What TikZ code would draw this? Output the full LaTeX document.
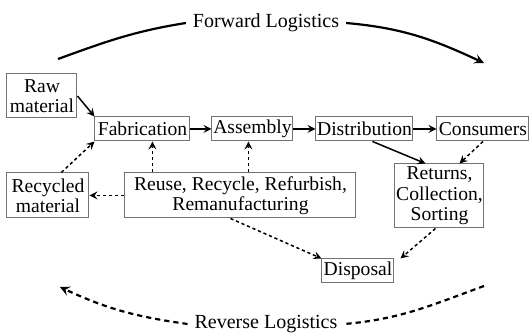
\documentclass[tikz,border=0pt]{standalone}
\usepackage{fontspec}
\setmainfont{Liberation Serif}
\begin{document}
\begin{tikzpicture}[x=0.5pt,y=0.5pt,
	box/.style={draw=black!55, line width=0.5pt, fill=white, inner sep=0.5pt, align=center, font=\fontsize{9.8}{10.2}\selectfont},
	flow/.style={line width=0.75pt, -stealth},
	back/.style={line width=0.75pt, -stealth, dash pattern=on 1.6pt off 1.4pt},
	logi/.style={font=\fontsize{10}{12}\selectfont},
	bigdash/.style={line width=1.1pt, dash pattern=on 2.6pt off 2pt}]
	\useasboundingbox (0,0) rectangle (532,333);

	% forward chain
	\node[box, minimum width=35pt, minimum height=22pt] (raw) at (42,237){Raw\\material};
	\node[box, minimum width=47.5pt, minimum height=12pt] (fab) at (142.5,204){Fabrication};
	\node[box, minimum width=40.5pt, minimum height=12pt] (asm) at (252.5,204){Assembly};
	\node[box, minimum width=48.5pt, minimum height=12pt] (dist) at (364.5,204){Distribution};
	\node[box, minimum width=46pt, minimum height=12pt] (cons) at (483,204){Consumers};

	% reverse chain
	\node[box, minimum width=41pt, minimum height=22.5pt] (recyc) at (48,137.5){Recycled\\material};
	\node[box, minimum width=115.5pt, minimum height=22.5pt] (reuse) at (240.5,137.5){Reuse, Recycle, Refurbish,\\Remanufacturing};
	\node[box, minimum width=44.5pt, minimum height=32pt] (ret) at (439.5,137){Returns,\\Collection,\\Sorting};
	\node[box, minimum width=36pt, minimum height=12pt] (disp) at (358,62){Disposal};

	\draw[flow] (raw.east) -- (fab.north west);
	\draw[flow] (fab) -- (asm);
	\draw[flow] (asm) -- (dist);
	\draw[flow] (dist) -- (cons);
	\draw[flow] ([xshift=4pt]dist.south) -- ([xshift=-7pt]ret.north);

	\coordinate (fabin) at ([xshift=5pt]fab.south);
	\coordinate (asmin) at ([xshift=-2pt]asm.south);
	\draw[back] (cons.south) -- ([xshift=10pt]ret.north);
	\draw[back] (reuse.west) -- (recyc.east);
	\draw[back] (recyc.60) -- (fab.south west);
	\draw[back] (fabin |- reuse.north) -- (fabin);
	\draw[back] (asmin |- reuse.north) -- (asmin);
	\draw[back] ([xshift=-5pt]reuse.south) -- (disp.north west);
	\draw[back] ([xshift=-2pt]ret.south) -- ([xshift=3pt]disp.north east);

	% big arcs
	\node[logi] (fwd) at (266,310){Forward Logistics};
	\coordinate (fstart) at (58,274);
	\coordinate (fend) at (484,270);
	\draw[line width=1.1pt] (fstart) to[out=20,in=189] (fwd.west);
	\draw[line width=1.1pt, -stealth] (fwd.east) to[out=-5,in=155] (fend);

	\node[logi] (rev) at (266,9){Reverse Logistics};
	\coordinate (rstart) at (484,47);
	\coordinate (rend) at (60,46);
	\draw[bigdash] (rstart) to[out=200,in=5] (rev.east);
	\draw[bigdash, -stealth] (rev.west) to[out=172,in=-25] (rend);
\end{tikzpicture}
\end{document}
